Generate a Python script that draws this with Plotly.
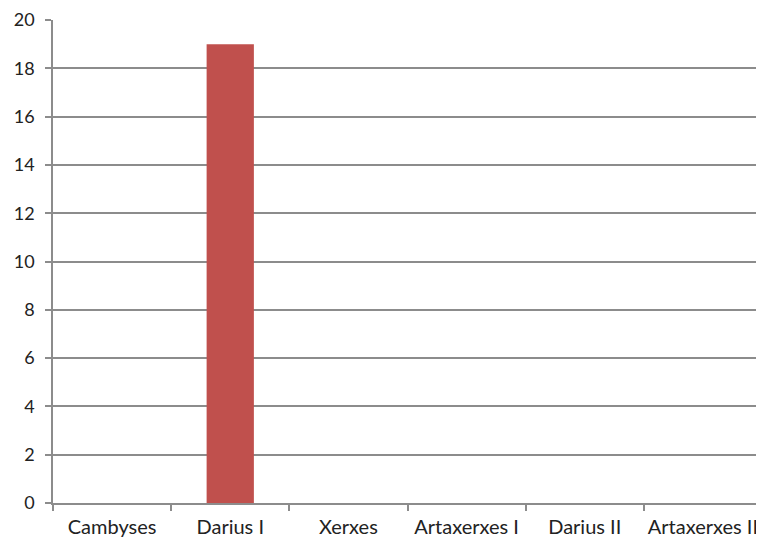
import plotly.graph_objects as go

categories = ["Cambyses", "Darius I", "Xerxes", "Artaxerxes I", "Darius II", "Artaxerxes II"]
values = [0, 19, 0, 0, 0, 0]
y_ticks = [0, 2, 4, 6, 8, 10, 12, 14, 16, 18, 20]

grid = "#8c8c8c"
fig = go.Figure(go.Bar(x=categories, y=values, marker_color="#C0504D",
                       marker_line_width=0, width=0.4))
fig.update_layout(
    width=756, height=538,
    margin=dict(l=45, r=2, t=12, b=43, autoexpand=False),
    paper_bgcolor="white", plot_bgcolor="white",
    font=dict(family="Lato, sans-serif", size=18, color="#222"),
    showlegend=False,
)
fig.update_xaxes(type="category", showline=True, linecolor=grid, linewidth=1.5,
                 ticks="outside", tickson="boundaries", ticklen=6, tickcolor=grid,
                 tickwidth=1.5, showgrid=False, ticklabelstandoff=5, automargin=False,
                 tickfont=dict(size=20), tickangle=0, ticklabeloverflow="allow")
fig.update_yaxes(range=[0, 20], tickvals=y_ticks, showline=True, linecolor=grid,
                 linewidth=1.5, ticks="outside", ticklen=6, tickcolor=grid, tickwidth=1.5,
                 showgrid=True, gridcolor=grid, gridwidth=1.5, zeroline=False,
                 ticklabelstandoff=7, automargin=False, ticklabeloverflow="allow")
fig.write_html("out.html")
